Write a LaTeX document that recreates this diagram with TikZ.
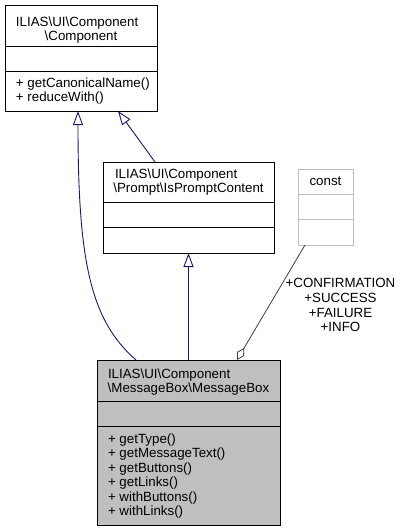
\documentclass[tikz,border=0pt]{standalone}
\usepackage{fontspec}
\setmainfont{Liberation Sans}
\usetikzlibrary{arrows.meta,calc}
\definecolor{navy}{HTML}{191970}
\definecolor{boxgray}{HTML}{BFBFBF}
\definecolor{aggline}{HTML}{404040}
\begin{document}
\begin{tikzpicture}[x=1pt,y=-1pt,
  box/.style={draw=black, line width=1pt, anchor=north west, inner sep=0pt, outer sep=0pt},
  cbox/.style={draw=boxgray, line width=1pt, anchor=north west, inner sep=0pt, outer sep=0pt},
  txt/.style={inner sep=0pt, outer sep=0pt, font=\fontsize{13.33}{14.6}\selectfont},
  lt/.style={txt, anchor=base west},
  ct/.style={txt, anchor=base},
  inh/.style={draw=navy, line width=0.9pt, -{Triangle[open, length=14pt, width=10pt]}},
  agg/.style={draw=aggline, line width=0.8pt, {Diamond[open, length=14pt, width=8pt]}-},
]
\useasboundingbox (0,0) rectangle (403,531);
\fill[white] (0,0) rectangle (403,531);

% Component
\node[box, minimum width=152pt, minimum height=106pt] (comp) at (5,5) {};
\draw[line width=1pt] (5,46) -- (157,46) (5,71) -- (157,71);
\node[lt] (comp1) at (16,26.5) {ILIAS\textbackslash UI\textbackslash Component};
\node[ct] (comp2) at (81,40.5) {\textbackslash Component};
\node[lt] (compm1) at (16,87) {+ getCanonicalName()};
\node[lt] (compm2) at (16,101.5) {+ reduceWith()};

% IsPromptContent
\node[box, minimum width=171pt, minimum height=91pt] (ipc) at (103,162) {};
\draw[line width=1pt] (103,202) -- (274,202) (103,227) -- (274,227);
\node[lt] (ipc1) at (115,178) {ILIAS\textbackslash UI\textbackslash Component};
\node[ct] (ipc2) at (188.5,192.5) {\textbackslash Prompt\textbackslash IsPromptContent};

% const
\node[cbox, minimum width=55pt, minimum height=76pt] (const) at (298,169) {};
\draw[boxgray, line width=1pt] (298,194) -- (353,194) (298,219) -- (353,219);
\node[ct] (constt) at (325.5,185) {const};

% MessageBox
\node[box, fill=boxgray, minimum width=183pt, minimum height=165pt] (mb) at (97,360) {};
\draw[line width=1pt] (97,401) -- (280,401) (97,426) -- (280,426);
\node[lt] (mb1) at (108,378) {ILIAS\textbackslash UI\textbackslash Component};
\node[ct] (mb2) at (188.5,392.5) {\textbackslash MessageBox\textbackslash MessageBox};
\node[lt] (mbm1) at (108,443) {+ getType()};
\node[lt] (mbm2) at (108,457.5) {+ getMessageText()};
\node[lt] (mbm3) at (108,472) {+ getButtons()};
\node[lt] (mbm4) at (108,486.5) {+ getLinks()};
\node[lt] (mbm5) at (108,501) {+ withButtons()};
\node[lt] (mbm6) at (108,515.5) {+ withLinks()};

% connectors
\coordinate (mbA) at ($(mb.north west)+(39,0)$);
\coordinate (compA) at ($(comp.south west)+(73,0)$);
\draw[inh] (mbA) .. controls (90,320) and (78,260) .. (compA);

\coordinate (ipcA) at ($(ipc.north west)+(52,0)$);
\coordinate (compB) at ($(comp.south west)+(113,0)$);
\draw[inh] (ipcA) -- (compB);

\coordinate (mbB) at ($(mb.north west)+(91.5,0)$);
\coordinate (ipcB) at ($(ipc.south west)+(85.5,0)$);
\draw[inh] (mbB) -- (ipcB);

\coordinate (mbC) at ($(mb.north west)+(140,0)$);
\coordinate (constA) at ($(const.south west)+(7,0)$);
\draw[agg] (mbC) -- (constA);

\node[txt, anchor=north, align=center] (lbl) at (340.5,278.5)
  {+CONFIRMATION\\+SUCCESS\\+FAILURE\\+INFO};
\end{tikzpicture}
\end{document}
